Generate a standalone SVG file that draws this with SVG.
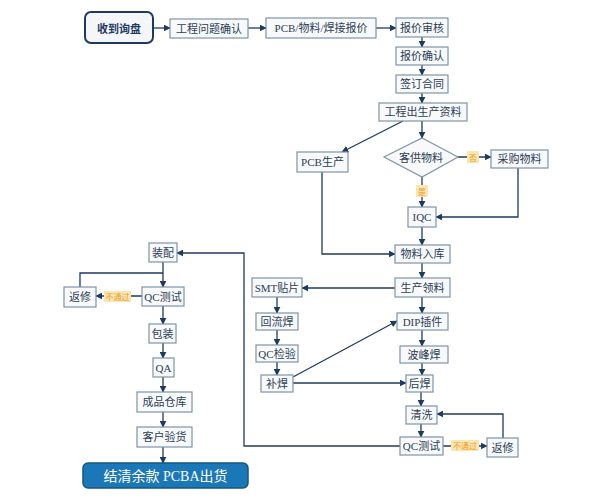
<svg xmlns="http://www.w3.org/2000/svg" width="598" height="498" viewBox="0 0 598 498">
<defs>
<marker id="arr" viewBox="0 0 10 10" refX="9" refY="5" markerWidth="7" markerHeight="7" markerUnits="userSpaceOnUse" orient="auto">
<path d="M0,0 L10,5 L0,10 z" fill="#1f3a5f"/>
</marker>
<style>
.box{fill:#f8f9fb;stroke:#7f93a8;stroke-width:1.2}
.t{font-family:"Liberation Serif","Noto Sans CJK SC",serif;font-size:11px;fill:#2c3e55;text-anchor:middle;dominant-baseline:central}
.c{fill:none;stroke:#1f3a5f;stroke-width:1.3}
.a{marker-end:url(#arr)}
.lb{fill:#fbe6b2}
.lt{font-family:"Noto Sans CJK SC",sans-serif;font-size:8px;fill:#f29b1d;text-anchor:middle;dominant-baseline:central}
</style>
</defs>
<rect width="598" height="498" fill="#ffffff"/>

<g id="connectors">
<path class="c a" d="M153,28 H170"/>
<path class="c a" d="M248,28 H266"/>
<path class="c a" d="M376,28 H396"/>
<path class="c a" d="M422,37 V47"/>
<path class="c a" d="M422,65 V75"/>
<path class="c a" d="M422,93 V103"/>
<path class="c a" d="M422,121 V138"/>
<path class="c a" d="M403,121 L342,152"/>
<path class="c a" d="M458,157 H491"/>
<path class="c a" d="M422,177 V207"/>
<path class="c a" d="M518,168 V217 H436"/>
<path class="c a" d="M422,227 V245"/>
<path class="c a" d="M322,172 V254 H395"/>
<path class="c a" d="M422,263 V278"/>
<path class="c a" d="M395,288 H302"/>
<path class="c a" d="M277,297 V313"/>
<path class="c a" d="M277,330 V345"/>
<path class="c a" d="M277,362 V375"/>
<path class="c a" d="M293,383 H406"/>
<path class="c a" d="M293,377 L397,321"/>
<path class="c a" d="M422,297 V313"/>
<path class="c a" d="M422,330 V346"/>
<path class="c a" d="M422,363 V375"/>
<path class="c a" d="M421,392 V406"/>
<path class="c a" d="M421,424 V437"/>
<path class="c a" d="M443,446 H487"/>
<path class="c a" d="M503,438 V414 H437"/>
<path class="c a" d="M400,446 H244 V253 H177"/>
<path class="c a" d="M163,262 V287"/>
<path class="c" d="M80,287 V273 H163"/>
<path class="c a" d="M142,296 H96"/>
<path class="c a" d="M163,306 V324"/>
<path class="c a" d="M163,343 V358"/>
<path class="c a" d="M163,377 V392"/>
<path class="c a" d="M163,412 V427"/>
<path class="c a" d="M163,447 V463"/>
<g id="labels">
<rect class="lb" x="467" y="151" width="12" height="12"/>
<text class="lt" x="473" y="157">否</text>
<rect class="lb" x="416" y="185" width="12" height="12"/>
<text class="lt" x="422" y="191">是</text>
<rect class="lb" x="104" y="291" width="27" height="11"/>
<text class="lt" x="117.5" y="296.5">不通过</text>
<rect class="lb" x="451" y="440" width="28" height="11"/>
<text class="lt" x="465" y="445.5">不通过</text>
</g>
</g>

<g id="n-inquiry"><rect x="85" y="12" width="68" height="31" rx="6" fill="#f4f6f9" stroke="#1f3a5f" stroke-width="2"/><text class="t" x="119" y="27.5" style="font-weight:bold;fill:#1f3a5f;font-family:'Noto Sans CJK SC',sans-serif">收到询盘</text></g>
<g id="n-eng"><rect class="box" x="170" y="19" width="78" height="19"/><text class="t" x="209" y="28.5">工程问题确认</text></g>
<g id="n-quote"><rect class="box" x="266" y="18" width="110" height="20"/><text class="t" x="321" y="28">PCB/物料/焊接报价</text></g>
<g id="n-review"><rect class="box" x="396" y="18" width="52" height="19"/><text class="t" x="422" y="27.5">报价审核</text></g>
<g id="n-confirm"><rect class="box" x="396" y="47" width="52" height="18"/><text class="t" x="422" y="56">报价确认</text></g>
<g id="n-contract"><rect class="box" x="396" y="75" width="52" height="18"/><text class="t" x="422" y="84">签订合同</text></g>
<g id="n-data"><rect class="box" x="379" y="103" width="88" height="18"/><text class="t" x="423" y="112">工程出生产资料</text></g>
<g id="n-pcb"><rect class="box" x="297" y="152" width="51" height="20"/><text class="t" x="322.5" y="162">PCB生产</text></g>
<g id="n-cust"><polygon class="box" points="422,138 458,157 422,177 384,157"/><text class="t" x="421" y="157.5">客供物料</text></g>
<g id="n-buy"><rect class="box" x="491" y="150" width="57" height="18"/><text class="t" x="519.5" y="159">采购物料</text></g>
<g id="n-iqc"><rect class="box" x="408" y="207" width="28" height="20"/><text class="t" x="422" y="217">IQC</text></g>
<g id="n-stock"><rect class="box" x="395" y="245" width="55" height="18"/><text class="t" x="422.5" y="254">物料入库</text></g>
<g id="n-pick"><rect class="box" x="395" y="278" width="55" height="19"/><text class="t" x="422.5" y="287.5">生产领料</text></g>
<g id="n-smt"><rect class="box" x="252" y="278" width="50" height="19"/><text class="t" x="277" y="287.5">SMT贴片</text></g>
<g id="n-reflow"><rect class="box" x="256" y="313" width="42" height="17"/><text class="t" x="277" y="321.5">回流焊</text></g>
<g id="n-qcinsp"><rect class="box" x="256" y="345" width="42" height="17"/><text class="t" x="277" y="353.5">QC检验</text></g>
<g id="n-repairweld"><rect class="box" x="261" y="375" width="32" height="17"/><text class="t" x="277" y="383.5">补焊</text></g>
<g id="n-dip"><rect class="box" x="397" y="313" width="51" height="17"/><text class="t" x="422.5" y="321.5">DIP插件</text></g>
<g id="n-wave"><rect class="box" x="400" y="346" width="48" height="17"/><text class="t" x="424" y="354.5">波峰焊</text></g>
<g id="n-post"><rect class="box" x="406" y="375" width="27" height="17"/><text class="t" x="419.5" y="383.5">后焊</text></g>
<g id="n-clean"><rect class="box" x="406" y="406" width="31" height="18"/><text class="t" x="421.5" y="415">清洗</text></g>
<g id="n-qc2"><rect class="box" x="400" y="437" width="43" height="18"/><text class="t" x="421.5" y="446">QC测试</text></g>
<g id="n-rework2"><rect class="box" x="487" y="438" width="31" height="19"/><text class="t" x="502.5" y="447.5">返修</text></g>
<g id="n-assembly"><rect class="box" x="149" y="243" width="28" height="19"/><text class="t" x="163" y="252.5">装配</text></g>
<g id="n-qc1"><rect class="box" x="142" y="287" width="42" height="19"/><text class="t" x="163" y="296.5">QC测试</text></g>
<g id="n-rework1"><rect class="box" x="64" y="287" width="32" height="20"/><text class="t" x="80" y="297">返修</text></g>
<g id="n-pack"><rect class="box" x="149" y="324" width="27" height="19"/><text class="t" x="162.5" y="333.5">包装</text></g>
<g id="n-qa"><rect class="box" x="153" y="358" width="21" height="19"/><text class="t" x="163.5" y="367.5">QA</text></g>
<g id="n-wh"><rect class="box" x="137" y="392" width="55" height="20"/><text class="t" x="164.5" y="402">成品仓库</text></g>
<g id="n-check"><rect class="box" x="137" y="427" width="55" height="20"/><text class="t" x="164.5" y="437">客户验货</text></g>
<g id="n-ship"><rect x="83" y="463" width="165" height="25" rx="5" fill="#1b78b8" stroke="#15577f" stroke-width="1.5"/><text class="t" x="165.5" y="476" style="font-size:14px;fill:#ffffff">结清余款 PCBA出货</text></g>
</svg>
